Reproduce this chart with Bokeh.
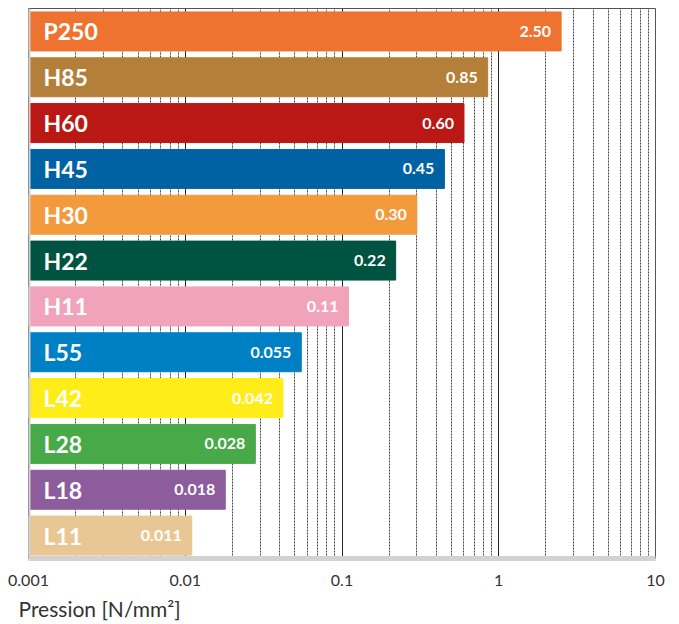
from bokeh.plotting import figure
from bokeh.models import ColumnDataSource, Range1d, FixedTicker, Title, Span
from bokeh.core.properties import value
from bokeh.embed import file_html
from bokeh.resources import INLINE

names = ["P250", "H85", "H60", "H45", "H30", "H22", "H11", "L55", "L42", "L28", "L18", "L11"]
values = [2.50, 0.85, 0.60, 0.45, 0.30, 0.22, 0.11, 0.055, 0.042, 0.028, 0.018, 0.011]
value_labels = ["2.50", "0.85", "0.60", "0.45", "0.30", "0.22", "0.11", "0.055", "0.042", "0.028", "0.018", "0.011"]
colors = ["#EE7330", "#B47F38", "#BA1815", "#0062A3", "#F39A3D", "#005340",
          "#F2A3BC", "#0080C4", "#FFED1A", "#48A948", "#8D5C9D", "#E9C794"]
major_ticks = [0.001, 0.01, 0.1, 1, 10]
tick_labels = ["0.001", "0.01", "0.1", "1", "10"]
x_start = 0.001

src = ColumnDataSource(dict(name=names, val=values, lab=value_labels, color=colors,
                            left=[x_start] * len(names)))

p = figure(frame_width=627, frame_height=550, output_backend="svg", toolbar_location=None,
           x_axis_type="log", x_range=Range1d(0.001, 10),
           y_range=list(reversed(names)),
           min_border_left=28, min_border_right=15, min_border_top=8, min_border_bottom=4)

minor = []
for d in [0.001, 0.01, 0.1, 1]:
    for k in range(2, 10):
        minor.append(d * k)

p.hbar(y="name", left="left", right="val", height=0.85, color="color", source=src)

p.text(x="left", y="name", text="name", source=src, x_offset=15,
       text_color="white", text_font=value("Lato"), text_font_style="bold",
       text_font_size="23px", text_baseline="middle", text_align="left")
p.text(x="val", y="name", text="lab", source=src, x_offset=-10,
       text_color="white", text_font=value("Lato"), text_font_style="bold",
       text_font_size="16px", text_baseline="middle", text_align="right")

p.xaxis.ticker = FixedTicker(ticks=major_ticks, minor_ticks=minor)
p.xaxis.major_label_overrides = {t: l for t, l in zip(major_ticks, tick_labels)}
p.xaxis.axis_line_color = "#d2d2d2"
p.xaxis.axis_line_width = 5
p.xaxis.major_tick_line_color = None
p.xaxis.minor_tick_line_color = None
p.xaxis.major_label_text_font = "Lato"
p.xaxis.major_label_text_font_size = "16px"
p.xaxis.major_label_text_color = "#333333"
p.xaxis.major_label_standoff = 10

p.yaxis.visible = False
p.add_layout(Span(location=x_start, dimension="height", line_color="#d2d2d2", line_width=4))

p.xgrid.grid_line_color = "#222222"
p.xgrid.grid_line_width = 1
p.xgrid.minor_grid_line_color = "#444444"
p.xgrid.minor_grid_line_dash = "2 1"
p.xgrid.minor_grid_line_width = 1
p.ygrid.grid_line_color = None

p.outline_line_color = "#555555"
p.outline_line_width = 1

p.add_layout(Title(text="Pression [N/mm²]", align="left", text_font="Lato",
                   text_font_size="21px", text_font_style="normal",
                   text_color="#333333", offset=-10), "below")

open("out.html", "w").write(file_html(p, INLINE))
